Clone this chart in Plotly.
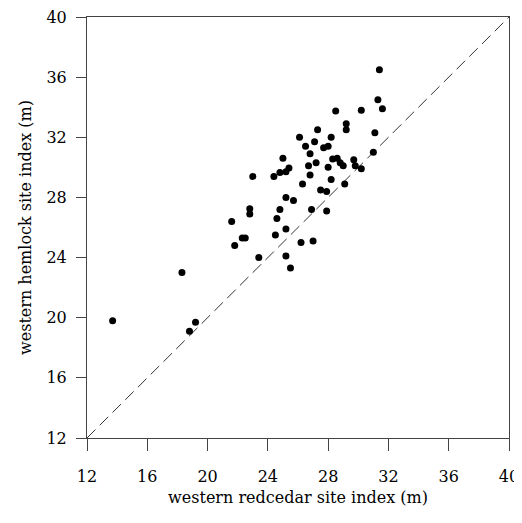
import plotly.graph_objects as go

redcedar_si = [13.7, 18.3, 18.8, 19.2,
               31.4, 31.3, 31.6, 28.5, 30.2, 29.2, 29.2, 27.3, 31.1, 26.1, 28.2,
               27.1, 26.5, 28.0, 27.7, 31.0, 26.8, 25.0, 28.3, 28.6, 29.7, 27.2,
               28.8, 26.7, 29.0, 29.8, 30.2, 28.0, 25.4, 25.2, 24.8, 24.4, 23.0,
               26.8, 28.2, 26.3, 29.1, 27.5, 27.9, 25.2, 25.7, 22.8, 22.8, 24.8,
               26.9, 27.9, 21.6, 24.6, 22.3, 22.5, 21.8, 24.5, 25.2, 23.4, 25.2,
               26.2, 27.0, 25.5]
hemlock_si = [19.8, 23.0, 19.1, 19.7,
              36.5, 34.5, 33.9, 33.75, 33.8, 32.9, 32.5, 32.5, 32.3, 32.0, 32.0,
              31.7, 31.4, 31.4, 31.3, 31.0, 30.9, 30.6, 30.55, 30.6, 30.5, 30.3,
              30.3, 30.1, 30.1, 30.1, 29.9, 30.0, 29.95, 29.7, 29.65, 29.4, 29.4,
              29.5, 29.2, 28.9, 28.9, 28.5, 28.4, 28.0, 27.8, 27.25, 26.9, 27.2,
              27.2, 27.1, 26.4, 26.6, 25.3, 25.3, 24.8, 25.5, 25.9, 24.0, 24.1,
              25.0, 25.1, 23.3]
line_vals = [12, 40]
tick_vals = [12, 16, 20, 24, 28, 32, 36, 40]

fig = go.Figure()
fig.add_trace(go.Scatter(x=line_vals, y=line_vals, mode="lines",
                         line=dict(color="#333333", width=1, dash="12px,6px"),
                         hoverinfo="skip", showlegend=False))
fig.add_trace(go.Scatter(x=redcedar_si, y=hemlock_si, mode="markers",
                         marker=dict(color="black", size=7),
                         showlegend=False))

font = dict(family="DejaVu Serif, Liberation Serif, serif", color="black")
axis_common = dict(range=[12, 40], tickvals=tick_vals, showgrid=False,
                   zeroline=False, showline=True, linecolor="#444444",
                   linewidth=1, mirror=True, ticks="outside",
                   tickcolor="#444444", tickfont=dict(size=16, **font),
                   automargin=False, ticklabeloverflow="allow")
fig.update_xaxes(title=dict(text="western redcedar site index (m)",
                            font=dict(size=16, **font), standoff=6),
                 ticklen=12, ticklabelstandoff=12, **axis_common)
fig.update_yaxes(title=dict(text="western hemlock site index (m)",
                            font=dict(size=16, **font), standoff=10),
                 ticklen=10, ticklabelstandoff=6, **axis_common)
fig.update_layout(width=514, height=515, plot_bgcolor="white",
                  paper_bgcolor="white",
                  margin=dict(l=79, r=13, t=9, b=85))
fig.write_html("out.html")
